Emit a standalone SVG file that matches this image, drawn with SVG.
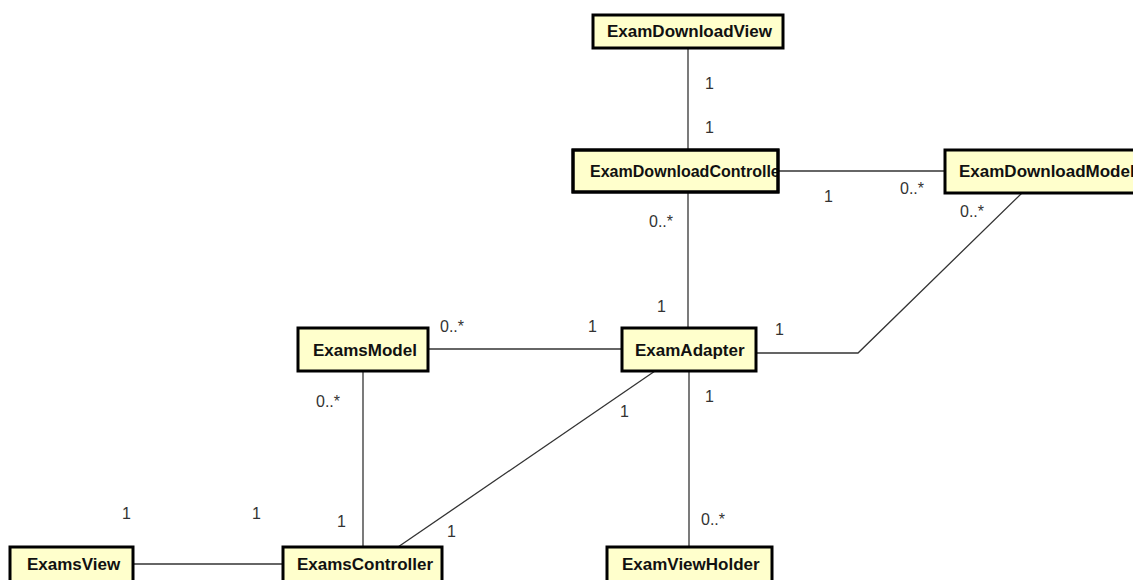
<svg xmlns="http://www.w3.org/2000/svg" width="1133" height="580" viewBox="0 0 1133 580">
<style>
.box{fill:#ffffcc;stroke:#000;stroke-width:3}
.name{font-family:"Liberation Sans",Arial,sans-serif;font-weight:bold;font-size:17px;fill:#111}
.edge{stroke:#333;stroke-width:1.3;fill:none}
.mult{font-family:"Liberation Sans",Arial,sans-serif;font-size:16px;fill:#333}
</style>
<defs>
<clipPath id="clipCtrl"><rect x="573" y="150" width="205" height="42"/></clipPath>
</defs>
<rect width="1133" height="580" fill="#fff"/>
<g id="connectors">
<line class="edge" x1="688" y1="48" x2="688" y2="150"/>
<line class="edge" x1="778" y1="171" x2="945" y2="171"/>
<line class="edge" x1="688" y1="192" x2="688" y2="328"/>
<line class="edge" x1="428" y1="349" x2="622" y2="349"/>
<polyline class="edge" points="1022,193 858,353 756,353"/>
<line class="edge" x1="363" y1="371" x2="363" y2="547"/>
<line class="edge" x1="655" y1="371" x2="398" y2="547"/>
<line class="edge" x1="689" y1="371" x2="689" y2="547"/>
<line class="edge" x1="133" y1="564" x2="283" y2="564"/>
<text class="mult" x="705" y="89">1</text>
<text class="mult" x="705" y="133">1</text>
<text class="mult" x="824" y="202">1</text>
<text class="mult" x="900" y="194">0..*</text>
<text class="mult" x="960" y="217">0..*</text>
<text class="mult" x="649" y="227">0..*</text>
<text class="mult" x="657" y="312">1</text>
<text class="mult" x="440" y="332">0..*</text>
<text class="mult" x="588" y="332">1</text>
<text class="mult" x="775" y="335">1</text>
<text class="mult" x="316" y="407">0..*</text>
<text class="mult" x="337" y="527">1</text>
<text class="mult" x="447" y="537">1</text>
<text class="mult" x="620" y="417">1</text>
<text class="mult" x="705" y="402">1</text>
<text class="mult" x="701" y="525">0..*</text>
<text class="mult" x="122" y="519">1</text>
<text class="mult" x="252" y="519">1</text>
</g>
<g id="ExamDownloadView">
<rect class="box" x="593" y="15" width="190" height="33"/>
<text class="name" x="607" y="37">ExamDownloadView</text>
</g>
<g id="ExamDownloadController">
<rect class="box" x="573" y="150" width="205" height="42"/>
<text class="name" x="590" y="177" textLength="196" lengthAdjust="spacingAndGlyphs" clip-path="url(#clipCtrl)">ExamDownloadController</text>
<rect x="573" y="150" width="205" height="42" fill="none" stroke="#000" stroke-width="3"/>
</g>
<g id="ExamDownloadModel">
<rect class="box" x="945" y="150" width="200" height="43"/>
<text class="name" x="959" y="177">ExamDownloadModel</text>
</g>
<g id="ExamsModel">
<rect class="box" x="298" y="328" width="130" height="43"/>
<text class="name" x="313" y="356">ExamsModel</text>
</g>
<g id="ExamAdapter">
<rect class="box" x="622" y="328" width="134" height="43"/>
<text class="name" x="635" y="356">ExamAdapter</text>
</g>
<g id="ExamsView">
<rect class="box" x="10" y="547" width="123" height="45"/>
<text class="name" x="27" y="570">ExamsView</text>
</g>
<g id="ExamsController">
<rect class="box" x="283" y="547" width="159" height="45"/>
<text class="name" x="297" y="570">ExamsController</text>
</g>
<g id="ExamViewHolder">
<rect class="box" x="607" y="547" width="165" height="45"/>
<text class="name" x="622" y="570">ExamViewHolder</text>
</g>
</svg>
